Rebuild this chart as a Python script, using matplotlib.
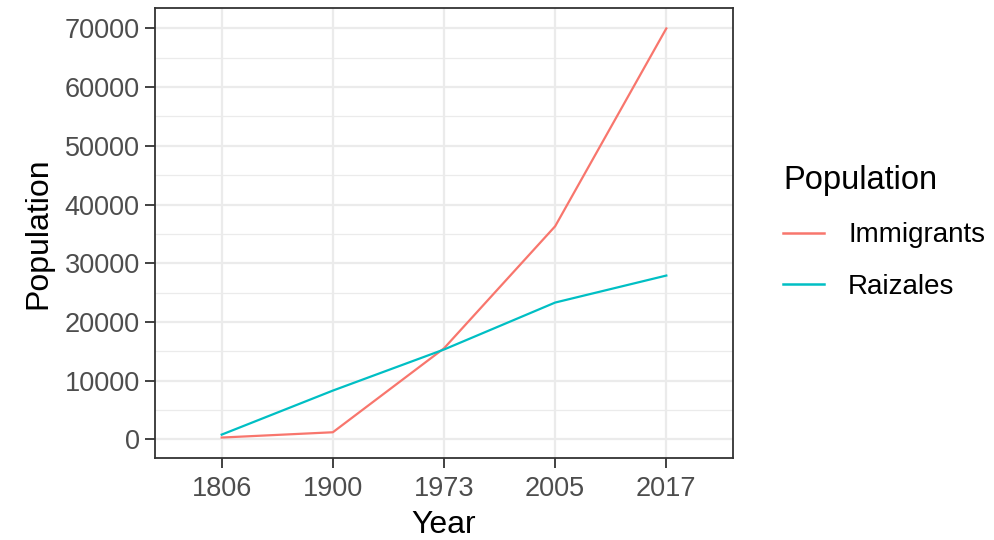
import matplotlib as mpl
import matplotlib.pyplot as plt
from matplotlib.ticker import MultipleLocator

# data
years = ["1806", "1900", "1973", "2005", "2017"]
immigrants = [300, 1200, 15500, 36300, 70000]
raizales = [800, 8300, 15300, 23300, 27900]

RED = "#F8766D"
TEAL = "#00BFC4"
GRID = "#EBEBEB"
TICK_TEXT = "#4D4D4D"
BORDER = "#333333"

mpl.rcParams["font.family"] = ["Liberation Sans", "DejaVu Sans"]

fig = plt.figure(figsize=(9.95, 5.4), dpi=100)
ax = fig.add_axes([155 / 995, 82 / 540, 578 / 995, 450 / 540])

x = list(range(1, len(years) + 1))
ax.plot(x, immigrants, color=RED, linewidth=1.6, label="Immigrants", zorder=3)
ax.plot(x, raizales, color=TEAL, linewidth=1.6, label="Raizales", zorder=3)

# ggplot-style limits: discrete x expands 0.6, continuous y expands 5%
ax.set_xlim(0.4, len(years) + 0.6)
lo = min(immigrants + raizales)
hi = max(immigrants + raizales)
pad = (hi - lo) * 0.05
ax.set_ylim(lo - pad, hi + pad)

ax.set_xticks(x)
ax.set_xticklabels(years)
ax.yaxis.set_major_locator(MultipleLocator(10000))
ax.yaxis.set_minor_locator(MultipleLocator(5000))

ax.set_axisbelow(True)
ax.grid(True, which="major", color=GRID, linewidth=1.6)
ax.grid(True, which="minor", axis="y", color=GRID, linewidth=0.9)

for side in ax.spines.values():
    side.set_color(BORDER)
    side.set_linewidth(1.3)

ax.tick_params(axis="both", which="major", colors=BORDER, labelcolor=TICK_TEXT,
               labelsize=19.5, length=7, width=1.3)
ax.tick_params(axis="x", which="major", pad=6)
ax.tick_params(axis="y", which="major", pad=4)
ax.tick_params(axis="y", which="minor", length=0)

ax.set_xlabel("Year", fontsize=23, color="black", labelpad=6)
ax.set_ylabel("Population", fontsize=23, color="black", labelpad=8)

leg = fig.legend(
    loc="upper left",
    bbox_to_anchor=(764 / 995, 1 - 146 / 540),
    frameon=False,
    title="Population",
    title_fontsize=23.5,
    fontsize=20,
    handlelength=1.47,
    handletextpad=0.86,
    labelspacing=0.93,
    borderaxespad=0.3,
    alignment="left",
)
for line in leg.get_lines():
    line.set_linewidth(1.8)

fig.savefig("out.png", dpi=100, facecolor="white")
